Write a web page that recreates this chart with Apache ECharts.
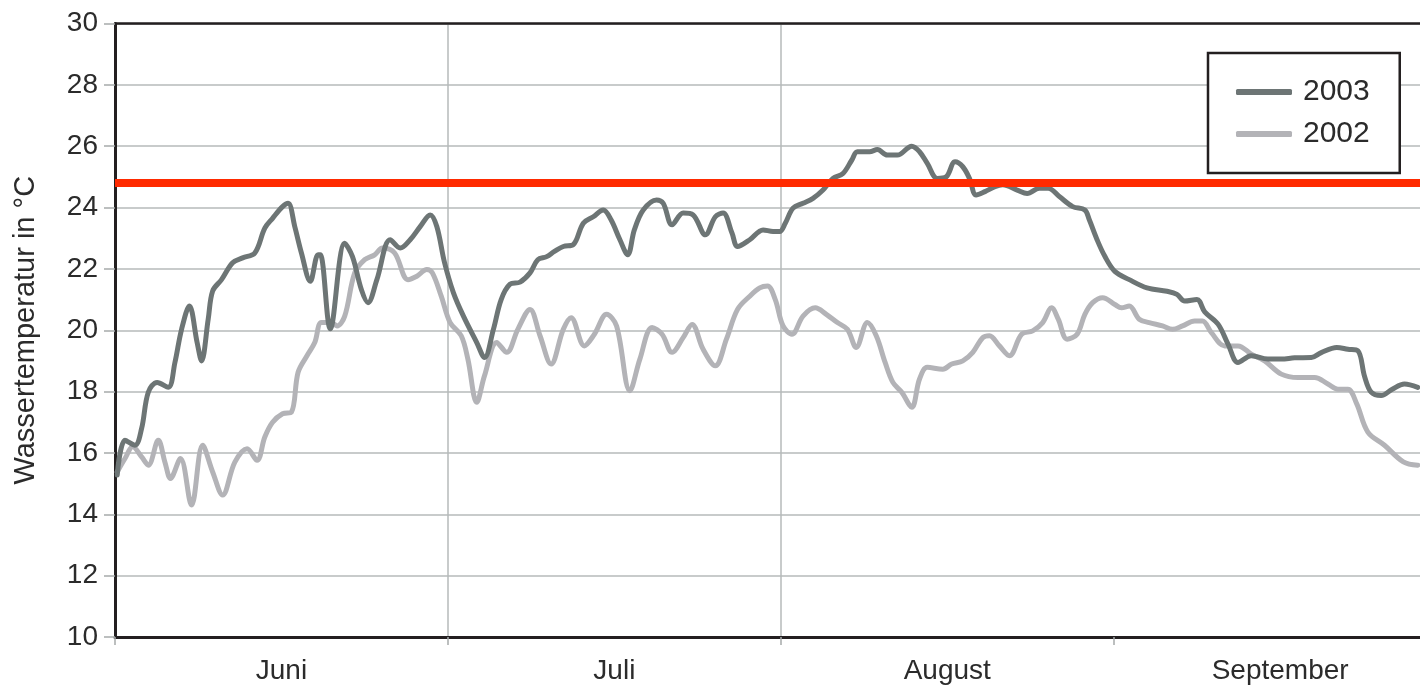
<!DOCTYPE html>
<html>
<head>
<meta charset="utf-8">
<script src="https://cdn.jsdelivr.net/npm/echarts@6/dist/echarts.min.js"></script>
<style>
html,body{margin:0;padding:0;background:#fff;}
#chart{width:1420px;height:690px;}
</style>
</head>
<body>
<div id="chart"></div>
<script>
// Tage seit 1. Juni (Achse: 30 Tage je Monatsabschnitt)
const monthLabels = ['Juni', 'Juli', 'August', 'September'];
const monthStarts = [0, 30, 60, 90];
const yTicks = [10, 12, 14, 16, 18, 20, 22, 24, 26, 28, 30];
const limitValue = 24.8;

const days2003 = [0.2,0.9,1.8,2.4,3.0,3.8,4.8,5.4,6.0,6.7,7.4,7.8,8.4,8.8,9.6,10.6,11.5,12.6,13.5,14.2,15.1,15.6,16.2,16.8,17.6,18.3,18.5,19.4,20.7,21.4,22.2,22.8,23.6,24.8,25.7,26.6,27.5,28.4,29.0,29.7,30.5,31.4,32.6,33.3,34.1,34.8,35.6,36.5,37.4,38.1,38.9,39.6,40.4,41.3,42.2,43.1,44.0,44.7,45.5,46.2,46.8,47.6,48.8,49.4,50.2,51.2,52.1,53.2,54.1,54.8,55.6,56.1,57.2,58.4,59.3,59.9,60.4,61.1,62.0,62.9,63.8,64.7,65.6,66.4,66.9,68.0,68.7,69.6,70.5,71.8,72.5,73.2,74.1,74.9,75.7,76.4,77.0,77.6,78.4,79.3,80.0,81.3,82.2,83.3,84.1,85.1,86.3,87.4,87.8,88.5,89.2,90.1,91.4,93.0,94.8,95.7,96.4,97.5,98.2,99.4,100.3,101.2,102.4,103.9,105.1,106.3,107.8,108.7,110.1,111.1,112.0,112.6,113.2,114.1,115.1,116.2,117.4];
const temp2003 = [15.28,16.41,16.25,16.8,17.98,18.3,18.14,18.95,20.03,20.79,19.6,19.0,20.36,21.28,21.65,22.2,22.36,22.52,23.33,23.65,24.03,24.14,23.38,22.52,21.6,22.46,22.46,20.05,22.84,22.4,21.33,20.9,21.65,22.95,22.68,22.95,23.38,23.76,23.38,22.2,21.22,20.46,19.6,19.11,20.03,21.0,21.5,21.57,21.87,22.3,22.4,22.57,22.73,22.79,23.49,23.7,23.92,23.6,22.95,22.46,23.27,23.92,24.25,24.14,23.44,23.82,23.76,23.11,23.7,23.82,23.17,22.73,22.95,23.27,23.22,23.22,23.49,23.98,24.14,24.3,24.57,24.95,25.11,25.55,25.82,25.82,25.89,25.71,25.71,26.0,25.82,25.44,24.95,25.0,25.49,25.33,24.95,24.41,24.52,24.68,24.74,24.57,24.46,24.63,24.63,24.36,24.03,23.92,23.6,22.95,22.41,21.92,21.65,21.38,21.27,21.17,20.95,21.0,20.6,20.2,19.55,18.95,19.17,19.06,19.06,19.1,19.11,19.27,19.44,19.38,19.33,18.5,17.98,17.87,18.08,18.25,18.14];

const days2002 = [0.2,0.9,1.6,2.4,3.0,3.9,4.5,5.0,5.9,6.9,7.9,8.8,9.7,10.8,11.9,12.8,13.5,14.2,15.1,15.9,16.5,17.3,18.0,18.6,19.5,20.0,20.7,21.6,22.5,23.4,24.1,25.2,26.4,27.2,28.1,28.6,29.4,30.2,31.2,31.8,32.6,33.3,34.4,35.3,36.3,37.4,38.3,39.3,40.4,41.1,42.3,43.2,44.3,45.2,46.4,47.3,48.4,49.3,50.2,51.2,52.0,53.0,54.1,55.1,56.1,57.2,58.1,58.8,59.5,60.2,61.0,62.0,63.1,64.1,65.1,66.0,66.8,67.8,68.6,69.4,70.1,70.9,71.8,72.5,73.2,74.6,75.4,76.4,77.3,78.2,78.8,79.7,80.6,81.7,82.7,83.6,84.4,85.0,85.8,86.7,87.4,88.1,89.0,90.1,90.7,91.4,92.3,93.2,94.4,95.3,96.2,97.3,98.0,98.8,100.0,101.2,102.4,103.6,105.1,106.6,108.1,109.3,110.2,111.1,111.9,112.9,114.4,116.1,117.4];
const temp2002 = [15.38,15.82,16.2,15.87,15.6,16.41,15.7,15.17,15.82,14.3,16.25,15.38,14.63,15.7,16.14,15.76,16.52,17.0,17.28,17.33,18.63,19.17,19.6,20.25,20.25,20.14,20.46,21.87,22.3,22.46,22.68,22.52,21.65,21.76,21.98,21.87,21.11,20.25,19.82,19.06,17.65,18.52,19.6,19.28,20.03,20.68,19.82,18.9,20.03,20.41,19.49,19.87,20.52,20.14,18.03,19.06,20.09,19.87,19.28,19.76,20.19,19.38,18.84,19.71,20.68,21.11,21.38,21.44,21.0,20.14,19.87,20.46,20.73,20.52,20.25,20.03,19.44,20.25,19.82,18.95,18.3,17.98,17.49,18.41,18.79,18.73,18.9,19.0,19.28,19.76,19.82,19.49,19.17,19.87,19.98,20.25,20.73,20.36,19.71,19.87,20.52,20.9,21.06,20.84,20.73,20.79,20.36,20.25,20.14,20.03,20.14,20.3,20.3,19.92,19.49,19.49,19.22,19.0,18.57,18.46,18.46,18.25,18.08,18.08,17.6,16.68,16.25,15.71,15.6];

const pairs = (xs, ys) => xs.map((x, i) => [x, ys[i]]);

const FONT = '"Liberation Sans", Arial, sans-serif';
const GRID_COLOR = '#b6baba';
const AXIS_COLOR = '#231f20';
const TEXT_COLOR = '#2b2b2b';
const X_MAX = 117.6;

const chart = echarts.init(document.getElementById('chart'), null, {renderer: 'canvas'});
chart.setOption({
  animation: false,
  backgroundColor: '#ffffff',
  textStyle: {fontFamily: FONT},
  grid: {left: 115, right: 0, top: 23.5, bottom: 53, containLabel: false},
  legend: {
    data: ['2003', '2002'],
    orient: 'vertical',
    left: 1208,
    top: 53,
    padding: [24, 30, 24, 28],
    itemGap: 12,
    itemWidth: 56,
    itemHeight: 6,
    icon: 'roundRect',
    borderColor: AXIS_COLOR,
    borderWidth: 2.5,
    borderRadius: 0,
    backgroundColor: '#ffffff',
    textStyle: {fontSize: 30, color: TEXT_COLOR, fontFamily: FONT, lineHeight: 30, padding: [0, 0, 0, 6]}
  },
  xAxis: [
    {
      type: 'value', position: 'bottom', min: 0, max: X_MAX, interval: 30,
      axisLine: {show: true, onZero: false, lineStyle: {color: AXIS_COLOR, width: 3}},
      axisTick: {show: true, length: 8, customValues: monthStarts, lineStyle: {color: '#a6aaaa', width: 1.5}},
      axisLabel: {show: false},
      splitLine: {show: true, showMinLine: false, showMaxLine: false, lineStyle: {color: GRID_COLOR, width: 1.5}}
    },
    {
      type: 'value', position: 'bottom', offset: 0, min: 0, max: X_MAX, interval: 15,
      axisLine: {show: false}, axisTick: {show: false}, splitLine: {show: false},
      axisLabel: {
        show: true, margin: 20, fontSize: 28, color: TEXT_COLOR, fontFamily: FONT,
        showMinLabel: false, showMaxLabel: false,
        formatter: v => {
          const k = Math.round(v / 15);
          return (k % 2 === 1) ? (monthLabels[(k - 1) / 2] || '') : '';
        }
      }
    },
    {
      type: 'value', position: 'top', min: 0, max: X_MAX,
      axisLine: {show: true, onZero: false, lineStyle: {color: AXIS_COLOR, width: 2.5}},
      axisTick: {show: false}, axisLabel: {show: false}, splitLine: {show: false}
    }
  ],
  yAxis: {
    type: 'value', min: yTicks[0], max: yTicks[yTicks.length - 1], interval: 2,
    name: 'Wassertemperatur in °C',
    nameLocation: 'middle', nameGap: 75,
    nameTextStyle: {fontSize: 29, color: TEXT_COLOR, fontFamily: FONT},
    axisLine: {show: true, lineStyle: {color: AXIS_COLOR, width: 3}},
    axisTick: {show: true, length: 11, lineStyle: {color: '#a6aaaa', width: 1.5}},
    axisLabel: {fontSize: 28, color: TEXT_COLOR, margin: 17, fontFamily: FONT},
    splitLine: {show: true, lineStyle: {color: GRID_COLOR, width: 1.5}}
  },
  series: [
    {
      name: '2002', type: 'line', xAxisIndex: 0, showSymbol: false, smooth: 0.35,
      data: pairs(days2002, temp2002),
      lineStyle: {color: '#b3b3b7', width: 5, cap: 'round', join: 'round'},
      itemStyle: {color: '#b3b3b7'}, z: 2
    },
    {
      name: '2003', type: 'line', xAxisIndex: 0, showSymbol: false, smooth: 0.35,
      data: pairs(days2003, temp2003),
      lineStyle: {color: '#6d7575', width: 5, cap: 'round', join: 'round'},
      itemStyle: {color: '#6d7575'}, z: 3
    },
    {
      name: 'Grenzwert', type: 'line', xAxisIndex: 0, data: [], z: 5,
      markLine: {
        silent: true, symbol: 'none', label: {show: false},
        lineStyle: {color: '#ff2a00', width: 8, type: 'solid'},
        data: [{yAxis: limitValue}]
      }
    }
  ]
});
</script>
</body>
</html>
